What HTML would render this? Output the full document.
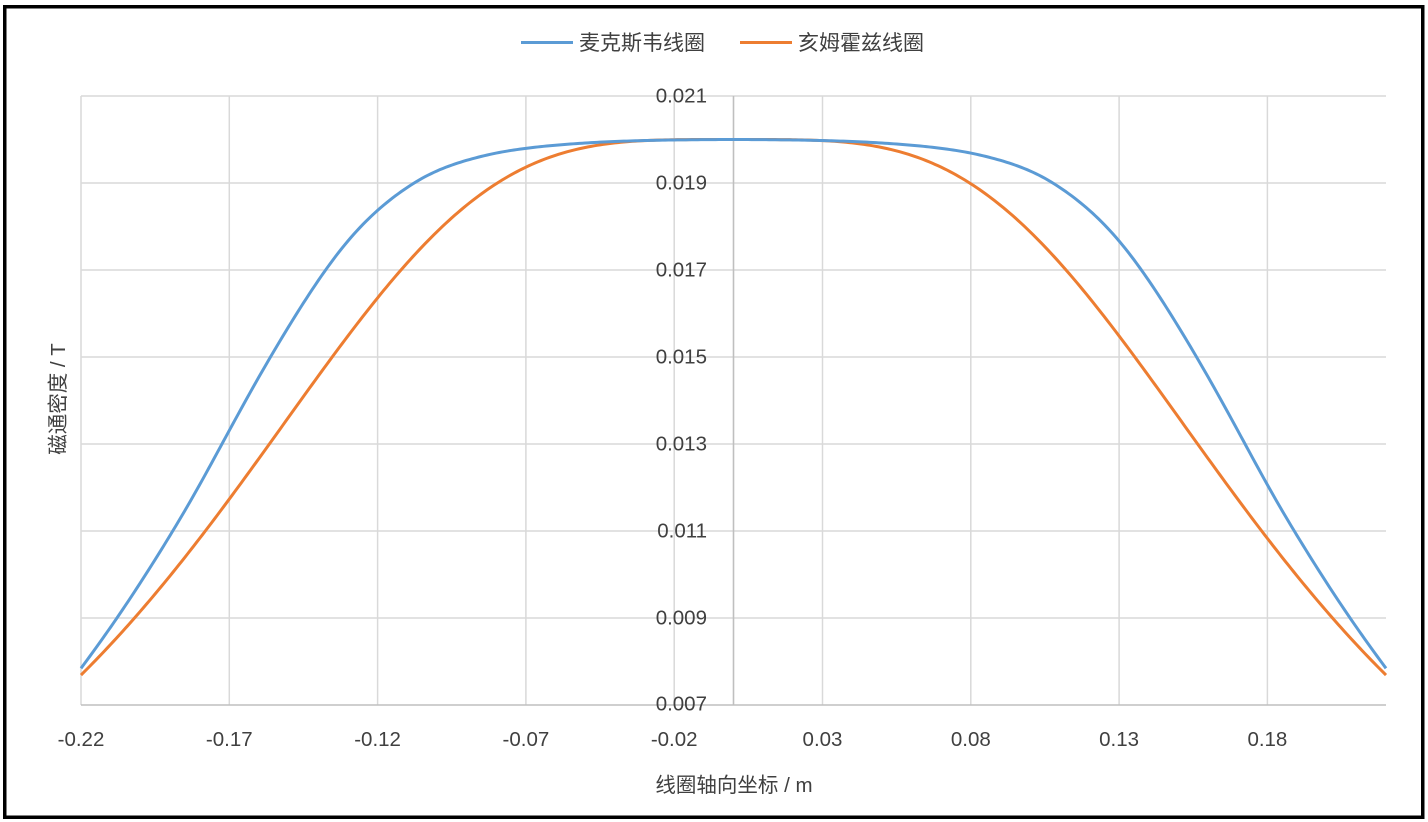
<!DOCTYPE html>
<html>
<head>
<meta charset="utf-8">
<style>
  html,body{margin:0;padding:0;background:#fff;}
  body{width:1428px;height:822px;overflow:hidden;}
  svg{display:block;}
  text{font-family:"Liberation Sans","Noto Sans CJK SC",sans-serif;fill:#404040;}
</style>
</head>
<body>
<svg id="chart" width="1428" height="822" viewBox="0 0 1428 822" xmlns="http://www.w3.org/2000/svg">
  <rect x="0" y="0" width="1428" height="822" fill="#fff"/>
  <rect x="4.75" y="6.75" width="1418" height="810.5" fill="none" stroke="#000" stroke-width="3.5"/>

  <g stroke="#d9d9d9" stroke-width="1.5">
    <line x1="81" y1="96" x2="1386" y2="96"/>
    <line x1="81" y1="183" x2="1386" y2="183"/>
    <line x1="81" y1="270" x2="1386" y2="270"/>
    <line x1="81" y1="357" x2="1386" y2="357"/>
    <line x1="81" y1="444" x2="1386" y2="444"/>
    <line x1="81" y1="531" x2="1386" y2="531"/>
    <line x1="81" y1="618" x2="1386" y2="618"/>
  </g>
  <g stroke="#d9d9d9" stroke-width="1.5">
    <line x1="81" y1="96" x2="81" y2="705"/>
    <line x1="229.3" y1="96" x2="229.3" y2="705"/>
    <line x1="377.6" y1="96" x2="377.6" y2="705"/>
    <line x1="525.9" y1="96" x2="525.9" y2="705"/>
    <line x1="674.2" y1="96" x2="674.2" y2="705"/>
    <line x1="822.5" y1="96" x2="822.5" y2="705"/>
    <line x1="970.8" y1="96" x2="970.8" y2="705"/>
    <line x1="1119.1" y1="96" x2="1119.1" y2="705"/>
    <line x1="1267.4" y1="96" x2="1267.4" y2="705"/>
  </g>
  <g stroke="#bfbfbf" stroke-width="1.6">
    <line x1="81" y1="705" x2="1386" y2="705"/>
    <line x1="733.5" y1="96" x2="733.5" y2="705"/>
  </g>

  <path id="orange" d="" fill="none" stroke="#ED7D31" stroke-width="3" stroke-linejoin="round"/>
  <path id="blue" d="" fill="none" stroke="#5B9BD5" stroke-width="3" stroke-linejoin="round"/>

  <g font-size="20.5" text-anchor="end">
    <text x="707" y="102.5">0.021</text>
    <text x="707" y="189.5">0.019</text>
    <text x="707" y="276.5">0.017</text>
    <text x="707" y="363.5">0.015</text>
    <text x="707" y="450.5">0.013</text>
    <text x="707" y="537.5">0.011</text>
    <text x="707" y="624.5">0.009</text>
    <text x="707" y="710.5">0.007</text>
  </g>
  <g font-size="20.5" text-anchor="middle">
    <text x="81" y="746">-0.22</text>
    <text x="229.3" y="746">-0.17</text>
    <text x="377.6" y="746">-0.12</text>
    <text x="525.9" y="746">-0.07</text>
    <text x="674.2" y="746">-0.02</text>
    <text x="822.5" y="746">0.03</text>
    <text x="970.8" y="746">0.08</text>
    <text x="1119.1" y="746">0.13</text>
    <text x="1267.4" y="746">0.18</text>
  </g>

  <text x="734" y="792" font-size="20.5" text-anchor="middle">线圈轴向坐标 / m</text>
  <text transform="translate(65,399) rotate(-90)" font-size="20.5" text-anchor="middle">磁通密度 / T</text>

  <line x1="521" y1="42.5" x2="573" y2="42.5" stroke="#5B9BD5" stroke-width="3"/>
  <text x="579" y="50" font-size="21">麦克斯韦线圈</text>
  <line x1="740" y1="42.5" x2="792" y2="42.5" stroke="#ED7D31" stroke-width="3"/>
  <text x="798" y="50" font-size="21">亥姆霍兹线圈</text>
</svg>

<script>
(function(){
  var X=function(z){return 81+(z+0.22)/0.44*1305;};
  var Y=function(v){return 705-(v-0.007)/0.014*609;};

  var R=0.163;
  function hf(u){return Math.pow(1+(u-0.5)*(u-0.5),-1.5)+Math.pow(1+(u+0.5)*(u+0.5),-1.5);}
  var h0=hf(0);
  function helm(z){return 0.02*hf(z/R)/h0;}

  var half=[
    [0,0.020000],[0.02,0.019990],[0.04,0.019955],[0.0584,0.019880],[0.07,0.019800],
    [0.0809,0.019683],[0.0865,0.019591],[0.0922,0.019483],[0.0978,0.019352],
    [0.1034,0.019184],[0.1089,0.018960],[0.12,0.018390],[0.13,0.017690],
    [0.1377,0.017000],[0.1562,0.015000],[0.1725,0.013000],[0.18,0.012050],
    [0.189,0.011000],[0.2078,0.009000],[0.22,0.007840],[0.235,0.006490],[0.25,0.005200]
  ];
  var xs=[],ys=[];
  for(var i=half.length-1;i>0;i--){xs.push(-half[i][0]);ys.push(half[i][1]);}
  for(var i=0;i<half.length;i++){xs.push(half[i][0]);ys.push(half[i][1]);}
  var n=xs.length,h=[],d=[],m=[];
  for(var k=0;k<n-1;k++){h[k]=xs[k+1]-xs[k];d[k]=(ys[k+1]-ys[k])/h[k];}
  m[0]=d[0];m[n-1]=d[n-2];
  for(var k=1;k<n-1;k++){
    if(d[k-1]*d[k]<=0){m[k]=0;}
    else{
      var w1=2*h[k]+h[k-1],w2=h[k]+2*h[k-1];
      m[k]=(w1+w2)/(w1/d[k-1]+w2/d[k]);
    }
  }
  function pchip(z){
    var k=0;
    while(k<n-2 && z>xs[k+1])k++;
    var hh=h[k],t=(z-xs[k])/hh,t2=t*t,t3=t2*t;
    return (2*t3-3*t2+1)*ys[k]+(t3-2*t2+t)*hh*m[k]+(-2*t3+3*t2)*ys[k+1]+(t3-t2)*hh*m[k+1];
  }
  var zs=[],vs=[];
  for(var i=0;i<=1000;i++){var z=-0.25+0.5*i/1000;zs.push(z);vs.push(pchip(z));}
  var sig=0.0045;
  function maxw(z){
    var s=0,w=0;
    for(var i=0;i<zs.length;i++){
      var dz=zs[i]-z;
      if(Math.abs(dz)>4*sig)continue;
      var ww=Math.exp(-dz*dz/(2*sig*sig));
      s+=ww*vs[i];w+=ww;
    }
    return s/w;
  }

  function build(fn){
    var s="",N=440;
    for(var i=0;i<=N;i++){
      var z=-0.22+0.44*i/N;
      s+=(i?"L":"M")+X(z).toFixed(2)+","+Y(fn(z)).toFixed(2);
    }
    return s;
  }
  document.getElementById("orange").setAttribute("d",build(helm));
  document.getElementById("blue").setAttribute("d",build(maxw));
})();
</script>
</body>
</html>
